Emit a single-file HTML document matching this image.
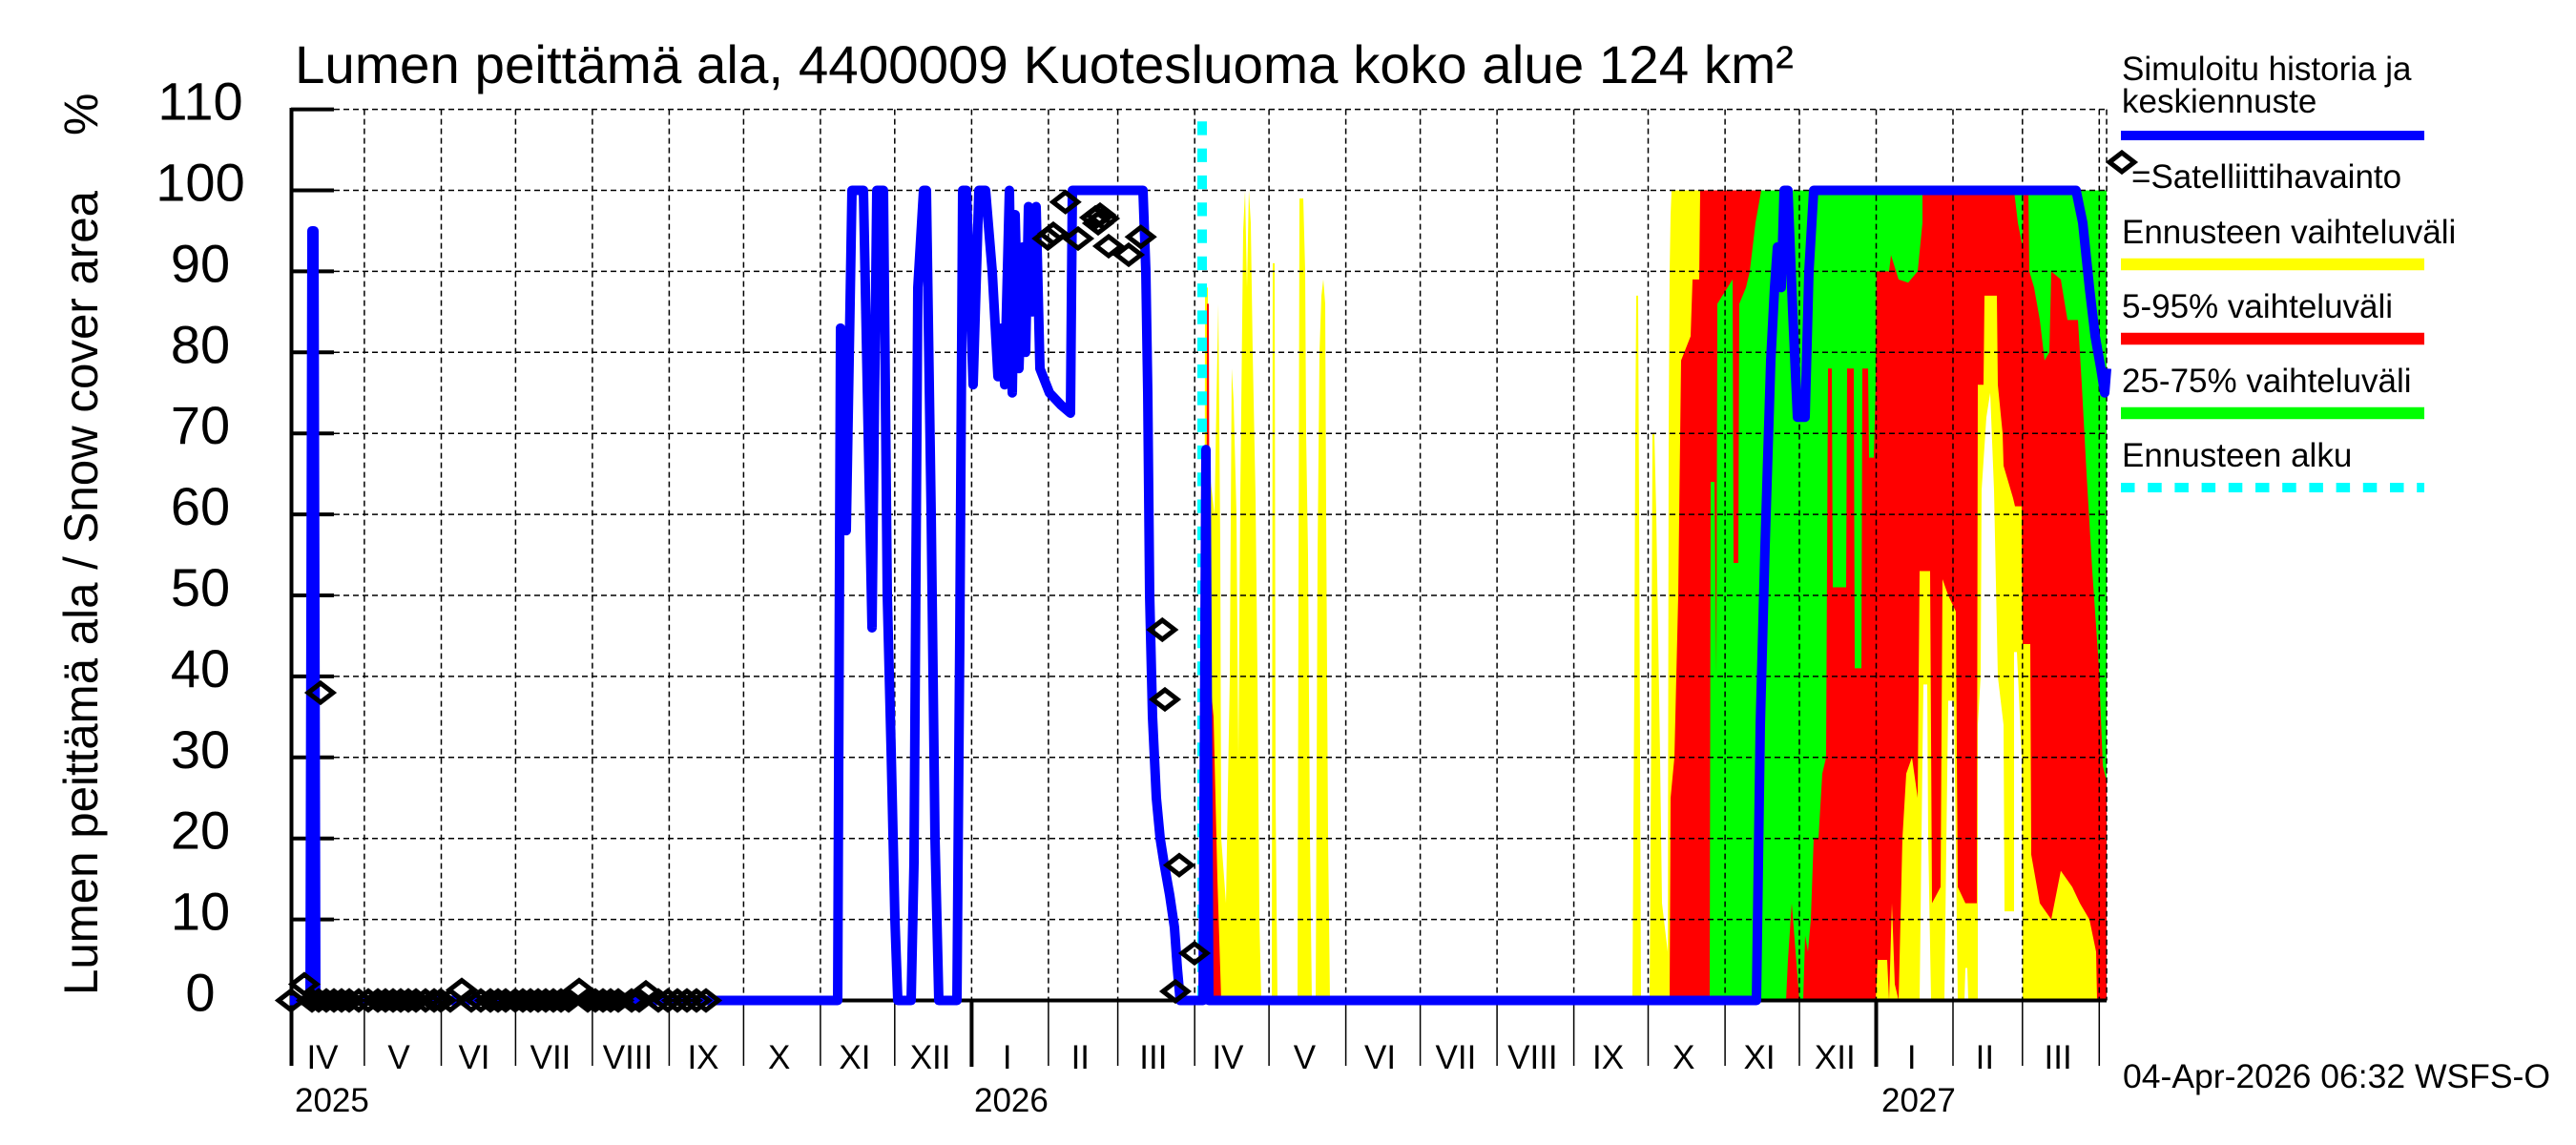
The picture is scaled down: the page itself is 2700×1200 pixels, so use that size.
<!DOCTYPE html>
<html><head><meta charset="utf-8"><style>html,body{margin:0;padding:0;background:#fff}svg{display:block}</style></head>
<body>
<svg xmlns="http://www.w3.org/2000/svg" width="2700" height="1200" viewBox="0 0 2700 1200" font-family="'Liberation Sans', Arial, sans-serif">
<rect width="2700" height="1200" fill="#fff"/>

<!-- data fills in (x, value) coordinates -->
<g transform="translate(0,1048.5) scale(1,-8.49)">
  <!-- spring 2026 yellow spikes -->
  <polygon fill="#ffff00" points="1262,0 1263,88 1266,88 1267,66 1271,62 1273,60 1275,74 1277,86 1279,56 1280,20 1285,12 1289,40 1291,78 1293,74 1296,60 1298,30 1300,62 1303,95 1305,100 1307,88 1309,100 1311,96 1313,80 1316,62 1318,40 1320,10 1322,0"/>
  <polygon fill="#ffff00" points="1333,0 1334,91 1336,91 1337,25 1339,0"/>
  <polygon fill="#ffff00" points="1360,0 1362,99 1366,99 1368,90 1369,70 1371,55 1373,20 1375,0"/>
  <polygon fill="#ffff00" points="1379,0 1381,55 1383,80 1385,87 1387,89 1389,86 1390,60 1392,20 1394,0"/>
  <polygon fill="#ff0000" points="1264,0 1265,86 1267,86 1268,40 1272,35 1276,15 1280,0"/>
  <!-- autumn 2026 onwards -->
  <polygon fill="#ffff00" points="1711,0 1713,40 1714,70 1715,87 1717,87 1718,60 1720,0"/>
  <polygon fill="#ffff00" points="1729,0 1731,40 1732,70 1734,70 1736,60 1738,45 1740,30 1742,12 1746,8 1748,6 1748,0"/>
  <polygon fill="#ffff00" points="1748,0 1749,70 1750,90 1751,97 1752,100 2208,100 2208,0"/>
  <polygon fill="#ff0000" points="1750,0 1751,25 1755,30 1759,50 1762,79 1772,82 1774,89 1781,89 1782,100 2208,100 2208,0 2198,0 2197,6 2190,10 2180,12 2172,14 2160,16 2150,10 2138,12 2129,18 2128,44 2120,44 2119,61 2112,61 2110,62 2100,66 2099,70 2094,76 2093,87 2080,87 2079,76 2073,76 2072,12 2060,12 2052,14 2050,48 2042,50 2036,52 2034,14 2025,12 2023,53 2012,53 2010,25 2004,30 1998,28 1994,20 1990,0 1986,2 1983,12 1980,0 1978,5 1968,5 1966,0"/>
  <polygon fill="#00ff00" points="1792,0 1793,64 1797,64 1799,40 1800,86 1816,89 1817,54 1822,54 1823,86 1830,88 1834,90 1840,96 1846,100 2015,100 2015,96 2010,90 2000,88.6 1990,89 1982,92 1980,90 1967,90 1966,76 1964,67 1959,67 1958,78 1952,78 1951,41 1944,41 1943,78 1936,78 1935,51 1921,51 1920,78 1916,78 1914,30 1910,28 1906,20 1901,20 1898,10 1895,6 1892,8 1890,0 1886,0 1882,6 1878,12 1874,5 1872,0"/>
  <polygon fill="#00ff00" points="2111,100 2208,100 2208,27 2204,29 2200,41 2193,53 2187,65 2182,76 2178,84 2167,84 2160,89 2150,90 2148,80 2143,79 2138,84 2132,88 2127,90 2126,100 2121,100 2120,93 2115,96"/>
  <!-- white holes (below minimum) -->
  <polygon fill="#fff" points="2012,0 2015,30 2016,39 2020,39 2021,20 2024,0"/>
  <polygon fill="#fff" points="2038,0 2040,19 2042,37 2048,37 2050,19 2052,0"/>
  <polygon fill="#fff" points="2059,0 2060,4 2062,4 2063,0"/>
  <polygon fill="#fff" points="2073,0 2073,34 2076,40 2077,63 2082,72 2086,75 2090,63 2094,40 2100,34 2101,11 2111,11 2111,43 2114,43 2119,30 2120,0"/>
</g>

<!-- dashed grid -->
<path fill="none" stroke="#000" stroke-width="1.5" stroke-dasharray="6,4" d="
M350,963.6H2208 M350,878.7H2208 M350,793.8H2208 M350,708.9H2208 M350,624H2208 M350,539.1H2208 M350,454.2H2208 M350,369.3H2208 M350,284.4H2208 M350,199.5H2208 M350,114.6H2208
M381.9,114.6V1048.5 M462.5,114.6V1048.5 M540.4,114.6V1048.5 M620.9,114.6V1048.5 M701.4,114.6V1048.5 M779.4,114.6V1048.5 M859.9,114.6V1048.5 M937.8,114.6V1048.5 M1018.4,114.6V1048.5 M1098.9,114.6V1048.5 M1171.6,114.6V1048.5 M1252.2,114.6V1048.5 M1330.1,114.6V1048.5 M1410.6,114.6V1048.5 M1488.6,114.6V1048.5 M1569.1,114.6V1048.5 M1649.6,114.6V1048.5 M1727.5,114.6V1048.5 M1808.1,114.6V1048.5 M1886,114.6V1048.5 M1966.5,114.6V1048.5 M2047,114.6V1048.5 M2119.8,114.6V1048.5 M2200.3,114.6V1048.5 M2208,114.6V1048.5"/>

<!-- month ticks below axis -->
<path fill="none" stroke="#000" stroke-width="1.5" d="
M381.9,1048.5V1117 M462.5,1048.5V1117 M540.4,1048.5V1117 M620.9,1048.5V1117 M701.4,1048.5V1117 M779.4,1048.5V1117 M859.9,1048.5V1117 M937.8,1048.5V1117 M1098.9,1048.5V1117 M1171.6,1048.5V1117 M1252.2,1048.5V1117 M1330.1,1048.5V1117 M1410.6,1048.5V1117 M1488.6,1048.5V1117 M1569.1,1048.5V1117 M1649.6,1048.5V1117 M1727.5,1048.5V1117 M1808.1,1048.5V1117 M1886,1048.5V1117 M2047,1048.5V1117 M2119.8,1048.5V1117 M2200.3,1048.5V1117"/>
<path fill="none" stroke="#000" stroke-width="4" d="M1018.4,1048.5V1118 M1966.5,1048.5V1118"/>

<!-- axes -->
<path fill="none" stroke="#000" stroke-width="4" d="M305.5,113V1117 M304,1048.5H2208"/>
<path fill="none" stroke="#000" stroke-width="4" d="M305,114.6H350 M305,199.5H350 M305,284.4H350 M305,369.3H350 M305,454.2H350 M305,539.1H350 M305,624H350 M305,708.9H350 M305,793.8H350 M305,878.7H350 M305,963.6H350"/>

<!-- forecast start -->
<line x1="1260" y1="114.6" x2="1260" y2="1048.5" stroke="#00ffff" stroke-width="10" stroke-dasharray="14.3,14" stroke-dashoffset="15.6"/>

<!-- simulated line -->
<g transform="translate(0,1048.5) scale(1,-8.49)">
<polyline fill="none" stroke="#0000ff" stroke-width="10" vector-effect="non-scaling-stroke" stroke-linejoin="round" points="304,0 325,0 327,95 329,95 331,0 878,0 881,83 887,58 893,100 905,100 914,46 919,100 926,100 930,50 934,31 938,10 941,0 955,0 958,17 962,88 968,100 971,100 976,60 980,20 984,0 1003,0 1006,45 1009,100 1013,100 1020,76 1026,100 1033,100 1040,90 1046,77 1050,83 1053,76 1058,100 1061,75 1064,97 1068,78 1072,93 1075,80 1078,98 1082,85 1086,98 1090,78 1100,75 1112,73.5 1122,72.5 1124,100 1198,100 1201,90 1203,75 1205,50 1208,35 1212,25 1216,20 1220,17 1226,13 1231,9 1234,4 1237,0 1261,0 1264,68 1267,0 1841,0 1845,34 1850,56 1856,79 1860,88 1863,93 1867,88 1870,100 1874,100 1879,85 1884,72 1892,72 1896,90 1901,100 2176,100 2183,96 2190,88 2196,82 2202,78 2206,75 2208,78"/>
</g>

<!-- satellite observations -->
<path fill="none" stroke="#000" stroke-width="5" stroke-linejoin="miter" d="
M292,1048.5l13,-10l13,10l-13,10z M314,1048.5l13,-10l13,10l-13,10z M321,1048.5l13,-10l13,10l-13,10z M329,1048.5l13,-10l13,10l-13,10z M337,1048.5l13,-10l13,10l-13,10z M345,1048.5l13,-10l13,10l-13,10z M353,1048.5l13,-10l13,10l-13,10z M363,1048.5l13,-10l13,10l-13,10z M373,1048.5l13,-10l13,10l-13,10z M383,1048.5l13,-10l13,10l-13,10z M391,1048.5l13,-10l13,10l-13,10z M399,1048.5l13,-10l13,10l-13,10z M407,1048.5l13,-10l13,10l-13,10z M415,1048.5l13,-10l13,10l-13,10z M423,1048.5l13,-10l13,10l-13,10z M433,1048.5l13,-10l13,10l-13,10z M442,1048.5l13,-10l13,10l-13,10z M449,1048.5l13,-10l13,10l-13,10z M459,1048.5l13,-10l13,10l-13,10z M481,1048.5l13,-10l13,10l-13,10z M491,1048.5l13,-10l13,10l-13,10z M501,1048.5l13,-10l13,10l-13,10z M509,1048.5l13,-10l13,10l-13,10z M517,1048.5l13,-10l13,10l-13,10z M527,1048.5l13,-10l13,10l-13,10z M535,1048.5l13,-10l13,10l-13,10z M543,1048.5l13,-10l13,10l-13,10z M551,1048.5l13,-10l13,10l-13,10z M559,1048.5l13,-10l13,10l-13,10z M567,1048.5l13,-10l13,10l-13,10z M575,1048.5l13,-10l13,10l-13,10z M583,1048.5l13,-10l13,10l-13,10z M603,1048.5l13,-10l13,10l-13,10z M611,1048.5l13,-10l13,10l-13,10z M619,1048.5l13,-10l13,10l-13,10z M627,1048.5l13,-10l13,10l-13,10z M635,1048.5l13,-10l13,10l-13,10z M649,1048.5l13,-10l13,10l-13,10z M657,1048.5l13,-10l13,10l-13,10z M677,1048.5l13,-10l13,10l-13,10z M687,1048.5l13,-10l13,10l-13,10z M697,1048.5l13,-10l13,10l-13,10z M707,1048.5l13,-10l13,10l-13,10z M717,1048.5l13,-10l13,10l-13,10z M727,1048.5l13,-10l13,10l-13,10z
M306,1031.5l13,-10l13,10l-13,10z M471,1037.5l13,-10l13,10l-13,10z M594,1037.5l13,-10l13,10l-13,10z M664,1040l13,-10l13,10l-13,10z M323,726l13,-10l13,10l-13,10z
M1103.7,211.7l13,-10l13,10l-13,10z M1085.3,250l13,-10l13,10l-13,10z M1091,245l13,-10l13,10l-13,10z M1117,250l13,-10l13,10l-13,10z M1135,228l13,-10l13,10l-13,10z M1140,225l13,-10l13,10l-13,10z M1144,229l13,-10l13,10l-13,10z M1138,234l13,-10l13,10l-13,10z M1149,258l13,-10l13,10l-13,10z M1170,267l13,-10l13,10l-13,10z M1182.7,248.3l13,-10l13,10l-13,10z
M1205.3,660l13,-10l13,10l-13,10z M1208,733l13,-10l13,10l-13,10z M1223,906.7l13,-10l13,10l-13,10z M1239,999l13,-10l13,10l-13,10z M1219,1039l13,-10l13,10l-13,10z"/>

<!-- title -->
<text x="309" y="87" font-size="56" textLength="1571" lengthAdjust="spacingAndGlyphs">Lumen peittämä ala, 4400009 Kuotesluoma koko alue 124 km²</text>

<!-- y axis label -->
<text transform="translate(102,1043) rotate(-90)" font-size="50" textLength="843" lengthAdjust="spacingAndGlyphs">Lumen peittämä ala / Snow cover area</text>
<text transform="translate(102,142) rotate(-90)" font-size="50">%</text>

<!-- y tick labels -->
<g font-size="56" text-anchor="middle">
<text x="210" y="125.6">110</text>
<text x="210" y="210.5">100</text>
<text x="210" y="295.4">90</text>
<text x="210" y="380.3">80</text>
<text x="210" y="465.2">70</text>
<text x="210" y="550.1">60</text>
<text x="210" y="635">50</text>
<text x="210" y="719.9">40</text>
<text x="210" y="804.8">30</text>
<text x="210" y="889.7">20</text>
<text x="210" y="974.6">10</text>
<text x="210" y="1059.5">0</text>
</g>

<!-- x labels -->
<g font-size="35" text-anchor="middle">
<text x="338" y="1120">IV</text>
<text x="418" y="1120">V</text>
<text x="497" y="1120">VI</text>
<text x="577" y="1120">VII</text>
<text x="658" y="1120">VIII</text>
<text x="737" y="1120">IX</text>
<text x="816.7" y="1120">X</text>
<text x="895.9" y="1120">XI</text>
<text x="975.1" y="1120">XII</text>
<text x="1055.7" y="1120">I</text>
<text x="1132.3" y="1120">II</text>
<text x="1208.9" y="1120">III</text>
<text x="1287" y="1120">IV</text>
<text x="1367.4" y="1120">V</text>
<text x="1446.6" y="1120">VI</text>
<text x="1525.9" y="1120">VII</text>
<text x="1606.4" y="1120">VIII</text>
<text x="1685.6" y="1120">IX</text>
<text x="1764.8" y="1120">X</text>
<text x="1844.1" y="1120">XI</text>
<text x="1923.3" y="1120">XII</text>
<text x="2003.8" y="1120">I</text>
<text x="2080.4" y="1120">II</text>
<text x="2157.1" y="1120">III</text>
</g>
<g font-size="35">
<text x="309" y="1165">2025</text>
<text x="1021" y="1165">2026</text>
<text x="1972" y="1165">2027</text>
<text x="2225" y="1140" textLength="448" lengthAdjust="spacingAndGlyphs">04-Apr-2026 06:32 WSFS-O</text>
</g>

<!-- legend -->
<g font-size="35">
<text x="2224" y="84">Simuloitu historia ja</text>
<text x="2224" y="118">keskiennuste</text>
<text x="2234" y="197">=Satelliittihavainto</text>
<text x="2224" y="255">Ennusteen vaihteluväli</text>
<text x="2224" y="333">5-95% vaihteluväli</text>
<text x="2224" y="411">25-75% vaihteluväli</text>
<text x="2224" y="489">Ennusteen alku</text>
</g>
<line x1="2223" y1="142" x2="2541" y2="142" stroke="#0000ff" stroke-width="10"/>
<path fill="none" stroke="#000" stroke-width="5" d="M2211,170l13,-10l13,10l-13,10z"/>
<line x1="2223" y1="277" x2="2541" y2="277" stroke="#ffff00" stroke-width="12.6"/>
<line x1="2223" y1="355" x2="2541" y2="355" stroke="#ff0000" stroke-width="12.6"/>
<line x1="2223" y1="433" x2="2541" y2="433" stroke="#00ff00" stroke-width="12.6"/>
<line x1="2223" y1="511" x2="2541" y2="511" stroke="#00ffff" stroke-width="10" stroke-dasharray="14.5,13.7"/>
</svg>
</body></html>
